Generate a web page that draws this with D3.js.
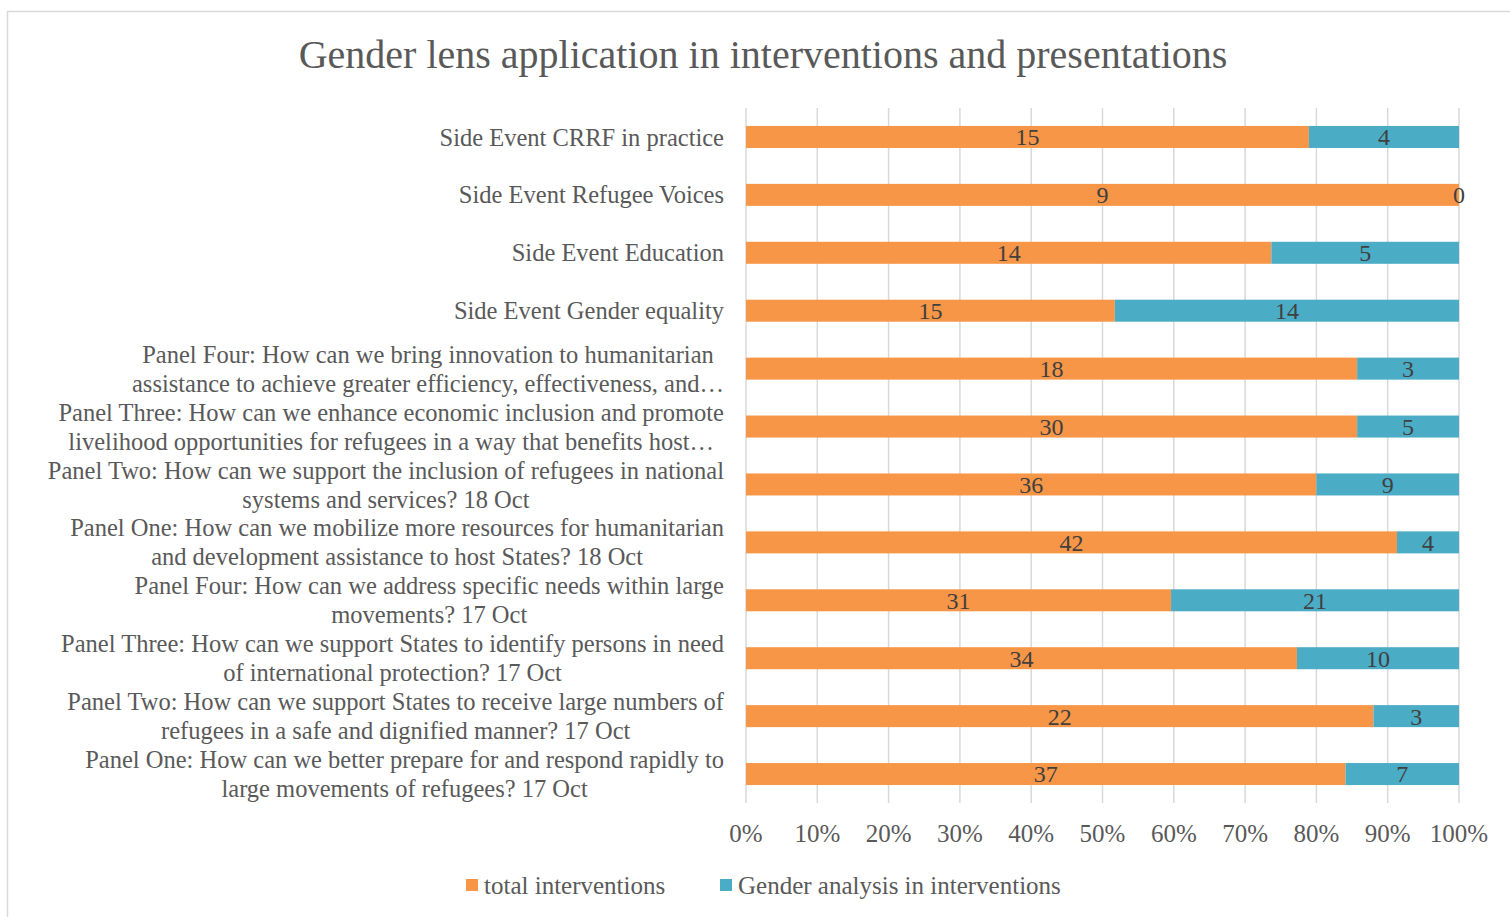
<!DOCTYPE html>
<html>
<head>
    <title>Gender lens application</title>
    <script src="https://d3js.org/d3.v7.min.js"></script>
    <style>
        body { margin: 0; padding: 0; background: #ffffff; overflow: hidden; }
        text { font-family: "Liberation Serif", "DejaVu Serif", serif; fill: #595959; }
    </style>
</head>
<body>
    <div id="chart"></div>
    <script>
        const width = 1510;
        const height = 917;

        // Categories (top to bottom), each split into display lines
        const categories = [
            ["Side Event CRRF in practice"],
            ["Side Event Refugee Voices"],
            ["Side Event Education"],
            ["Side Event Gender equality"],
            ["Panel Four: How can we bring innovation to humanitarian", "assistance to achieve greater efficiency, effectiveness, and\u2026"],
            ["Panel Three: How can we enhance economic inclusion and promote", "livelihood opportunities for refugees in a way that benefits host\u2026"],
            ["Panel Two: How can we support the inclusion of refugees in national", "systems and services? 18 Oct"],
            ["Panel One: How can we mobilize more resources for humanitarian", "and development assistance to host States? 18 Oct"],
            ["Panel Four: How can we address specific needs within large", "movements? 17 Oct"],
            ["Panel Three: How can we support States to identify persons in need", "of international protection? 17 Oct"],
            ["Panel Two: How can we support States to receive large numbers of", "refugees in a safe and dignified manner? 17 Oct"],
            ["Panel One: How can we better prepare for and respond rapidly to", "large movements of refugees? 17 Oct"]
        ];
        const totalInterventions = [15, 9, 14, 15, 18, 30, 36, 42, 31, 34, 22, 37];
        const genderAnalysis = [4, 0, 5, 14, 3, 5, 9, 4, 21, 10, 3, 7];
        const seriesNames = ["total interventions", "Gender analysis in interventions"];
        const seriesColors = ["#F79646", "#4BACC6"];
        const xTicks = [0, 0.1, 0.2, 0.3, 0.4, 0.5, 0.6, 0.7, 0.8, 0.9, 1];

        const margin = { left: 746, right: 51, top: 108, bottom: 114 };
        const labelRight = 724;

        const svg = d3.select('#chart')
            .append('svg')
            .attr('width', width)
            .attr('height', height);

        // Chart frame
        svg.append('rect')
            .attr('x', 7.5).attr('y', 11.5)
            .attr('width', width).attr('height', height)
            .attr('fill', 'none')
            .attr('stroke', '#d9d9d9')
            .attr('stroke-width', 1.5);

        // Title
        svg.append('text')
            .attr('x', 763)
            .attr('y', 68)
            .attr('text-anchor', 'middle')
            .style('font-size', '40px')
            .text('Gender lens application in interventions and presentations');

        const x = d3.scaleLinear()
            .domain([0, 1])
            .range([margin.left, width - margin.right]);

        const y = d3.scaleBand()
            .domain(d3.range(categories.length))
            .range([margin.top, height - margin.bottom])
            .paddingInner(0.62)
            .paddingOuter(0.31);

        // Gridlines
        svg.append('g')
            .selectAll('line')
            .data(xTicks)
            .join('line')
            .attr('x1', d => x(d)).attr('x2', d => x(d))
            .attr('y1', margin.top).attr('y2', height - margin.bottom)
            .attr('stroke', '#d9d9d9')
            .attr('stroke-width', 1.5);

        // Stacked (100%) rows
        const rows = categories.map((c, i) => {
            const total = totalInterventions[i] + genderAnalysis[i];
            const a = totalInterventions[i] / total;
            return [
                { i, s: 0, v: totalInterventions[i], x0: 0, x1: a },
                { i, s: 1, v: genderAnalysis[i], x0: a, x1: 1 }
            ];
        }).flat();

        svg.append('g')
            .selectAll('rect')
            .data(rows)
            .join('rect')
            .attr('x', d => x(d.x0))
            .attr('y', d => y(d.i))
            .attr('width', d => x(d.x1) - x(d.x0))
            .attr('height', y.bandwidth())
            .attr('fill', d => seriesColors[d.s]);

        svg.append('g')
            .selectAll('text')
            .data(rows)
            .join('text')
            .attr('x', d => (x(d.x0) + x(d.x1)) / 2)
            .attr('y', d => y(d.i) + y.bandwidth() / 2)
            .attr('dy', '0.35em')
            .attr('text-anchor', 'middle')
            .style('font-size', '24px')
            .style('fill', '#404040')
            .text(d => d.v);

        // Category labels, lines centred within a right-aligned block
        const labelGroup = svg.append('g');
        categories.forEach((lines, i) => {
            const cy = y(i) + y.bandwidth() / 2;
            const g = labelGroup.append('g');
            const texts = lines.map((line, k) => g.append('text')
                .attr('y', cy + (k - (lines.length - 1) / 2) * 29)
                .attr('dy', '0.35em')
                .attr('text-anchor', 'middle')
                .style('font-size', '24.5px')
                .text(line));
            const w = d3.max(texts, t => t.node().getComputedTextLength());
            texts.forEach(t => t.attr('x', labelRight - w / 2));
        });

        // X axis labels
        svg.append('g')
            .selectAll('text')
            .data(xTicks)
            .join('text')
            .attr('x', d => x(d))
            .attr('y', 842)
            .attr('text-anchor', 'middle')
            .style('font-size', '25px')
            .text(d => d3.format('.0%')(d));

        // Legend
        const legendX = [466, 720];
        const legend = svg.append('g')
            .selectAll('g')
            .data(seriesNames)
            .join('g')
            .attr('transform', (d, i) => `translate(${legendX[i]},885)`);
        legend.append('rect')
            .attr('x', 0).attr('y', -6)
            .attr('width', 12).attr('height', 12)
            .attr('fill', (d, i) => seriesColors[i]);
        legend.append('text')
            .attr('x', 18)
            .attr('dy', '0.35em')
            .style('font-size', '25px')
            .text(d => d);
    </script>
</body>
</html>
